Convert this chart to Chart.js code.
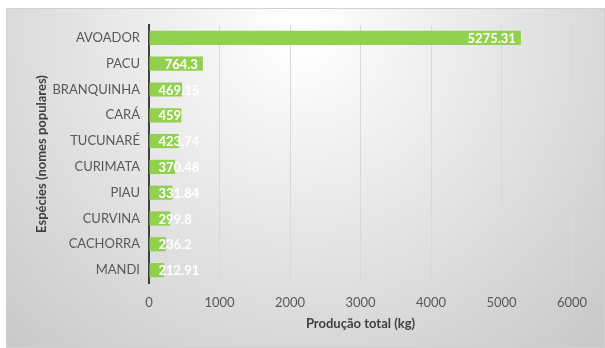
<!DOCTYPE html>
<html>
<head>
<meta charset="utf-8">
<script src="https://cdn.jsdelivr.net/npm/chart.js@4"></script>
<style>
  html, body { margin: 0; padding: 0; background: #fff; }
  #wrap { width: 605px; height: 348px; }
</style>
</head>
<body>
<div id="wrap"><canvas id="chart" width="605" height="348"></canvas></div>
<script>
// dados do gráfico
const especies = ['AVOADOR', 'PACU', 'BRANQUINHA', 'CARÁ', 'TUCUNARÉ', 'CURIMATA', 'PIAU', 'CURVINA', 'CACHORRA', 'MANDI'];
const producao = [5275.31, 764.3, 469.15, 459, 423.74, 370.48, 331.84, 299.8, 236.2, 212.91];
const rotulos = ['5275.31', '764.3', '469.15', '459', '423.74', '370.48', '331.84', '299.8', '236.2', '212.91'];
const xMax = 6000;
const xStep = 1000;

// fundo com gradiente radial (estilo Excel)
const fundo = {
    id: 'fundo',
    beforeDraw(chart) {
        const ctx = chart.ctx;
        ctx.save();
        ctx.fillStyle = '#ffffff';
        ctx.fillRect(0, 0, chart.width, chart.height);
        const g = ctx.createRadialGradient(300, 30, 10, 300, 30, 420);
        g.addColorStop(0, '#ffffff');
        g.addColorStop(1, '#cacaca');
        ctx.fillStyle = g;
        ctx.fillRect(6, 8, chart.width - 6, chart.height - 8);
        ctx.strokeStyle = '#d0d0d0';
        ctx.lineWidth = 1;
        ctx.strokeRect(6.5, 8.5, chart.width - 7, chart.height - 9);
        ctx.restore();
    }
};

// rótulos de dados dentro das barras
const rotulosBarras = {
    id: 'rotulosBarras',
    afterDatasetsDraw(chart) {
        const ctx = chart.ctx;
        const meta = chart.getDatasetMeta(0);
        ctx.save();
        ctx.font = 'bold 13px Lato';
        ctx.fillStyle = '#ffffff';
        ctx.textBaseline = 'middle';
        ctx.textAlign = 'left';
        meta.data.forEach((bar, i) => {
            const txt = rotulos[i];
            const w = ctx.measureText(txt).width;
            let x = bar.x - 5 - w;
            if (x < bar.base + 9) x = bar.base + 9;
            ctx.fillText(txt, x, bar.y + 1);
        });
        ctx.restore();
    }
};

new Chart(document.getElementById('chart'), {
    type: 'bar',
    data: {
        labels: especies,
        datasets: [{
            data: producao,
            backgroundColor: '#92d050',
            borderWidth: 0,
            categoryPercentage: 1,
            barPercentage: 0.55
        }]
    },
    options: {
        indexAxis: 'y',
        responsive: false,
        animation: false,
        devicePixelRatio: 1,
        layout: { padding: { top: 25, right: 33, left: 0, bottom: 0 } },
        plugins: {
            legend: { display: false },
            tooltip: { enabled: false }
        },
        scales: {
            x: {
                min: 0,
                max: xMax,
                ticks: {
                    stepSize: xStep,
                    color: '#595959',
                    font: { family: 'Lato', size: 13 },
                    padding: 12,
                    callback: v => String(v)
                },
                grid: { color: '#d9d9d9', drawTicks: false },
                border: { display: false },
                title: {
                    display: true,
                    text: 'Produção total (kg)',
                    color: '#404040',
                    font: { family: 'Lato', size: 13, weight: 'bold' },
                    padding: { top: 0, bottom: 16 }
                },
                afterFit(s) { s.height = 65; }
            },
            y: {
                ticks: {
                    color: '#595959',
                    font: { family: 'Lato', size: 13 },
                    padding: 9
                },
                grid: { display: false, drawTicks: false },
                border: { display: true, color: '#404040', width: 2 },
                title: {
                    display: true,
                    text: 'Espécies (nomes populares)',
                    color: '#404040',
                    font: { family: 'Lato', size: 13, weight: 'bold' },
                    padding: { top: 34, bottom: 0 }
                },
                afterFit(s) { s.width = 149; }
            }
        }
    },
    plugins: [fundo, rotulosBarras]
});
</script>
</body>
</html>
